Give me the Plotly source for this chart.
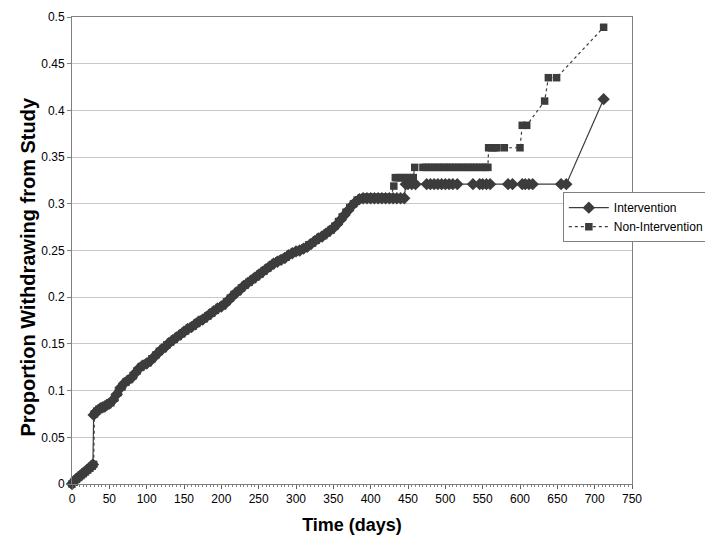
import plotly.graph_objects as go

# ---- data ----
int_days = [0, 2, 5, 8, 11, 14, 17, 20, 23, 26, 28,
            29, 32, 35, 38, 41, 44, 47, 50, 55, 60, 65, 70, 75, 80, 85, 90, 95, 100,
            105, 110, 115, 120, 125, 130, 135, 140, 145, 150, 155, 160, 165, 170, 175,
            180, 185, 190, 195, 200, 205, 210, 215, 220, 225, 230, 235, 240, 245, 250,
            255, 260, 265, 270, 275, 280, 285, 290, 295, 300, 305, 310, 315, 320, 325,
            330, 335, 340, 345, 350, 355, 360, 365, 370, 375, 380, 385, 390, 395, 400,
            405, 410, 415, 420, 425, 430, 435, 440, 445, 447,
            450, 455, 460, 475, 480, 485, 490, 495, 500, 505, 510, 516, 537, 546, 550,
            555, 560, 584, 590, 603, 607, 612, 617, 655, 662, 712]
int_vals = [0.000, 0.002, 0.005, 0.007, 0.009, 0.011, 0.013, 0.015, 0.017, 0.019, 0.021,
            0.074, 0.077, 0.079, 0.081, 0.082, 0.083, 0.085, 0.086, 0.090, 0.096, 0.103,
            0.108, 0.111, 0.114, 0.119, 0.124, 0.127, 0.129,
            0.132, 0.136, 0.140, 0.144, 0.147, 0.151, 0.154, 0.157, 0.160, 0.163, 0.166,
            0.168, 0.171, 0.174, 0.176,
            0.179, 0.182, 0.185, 0.188, 0.190, 0.193, 0.197, 0.201, 0.205, 0.208, 0.212,
            0.215, 0.218, 0.221, 0.224,
            0.227, 0.230, 0.233, 0.236, 0.238, 0.240, 0.242, 0.245, 0.247, 0.249, 0.250,
            0.252, 0.254, 0.257, 0.260,
            0.263, 0.265, 0.268, 0.271, 0.274, 0.278, 0.283, 0.288, 0.293, 0.298, 0.302,
            0.305, 0.306, 0.306, 0.306,
            0.306, 0.306, 0.306, 0.306, 0.306, 0.306, 0.306, 0.306, 0.306, 0.321,
            0.321, 0.321, 0.321, 0.321, 0.321, 0.321, 0.321, 0.321, 0.321, 0.321, 0.321,
            0.321, 0.321, 0.321, 0.321,
            0.321, 0.321, 0.321, 0.321, 0.321, 0.321, 0.321, 0.321, 0.321, 0.321, 0.412]

non_days = [0, 3, 6, 9, 12, 15, 18, 21, 24, 27, 29,
            30, 33, 36, 39, 42, 45, 48, 52, 57, 62, 67, 72, 77, 82, 87, 92, 97, 102,
            107, 112, 117, 122, 127, 132, 137, 142, 147, 152, 157, 162, 167, 172, 177,
            182, 187, 192, 197, 202, 207, 212, 217, 222, 227, 232, 237, 242, 247, 252,
            257, 262, 267, 272, 277, 282, 287, 292, 297, 302, 307, 312, 317, 322, 327,
            332, 337, 342, 347, 352, 357, 362, 367, 372, 377, 382, 387, 392, 397, 402,
            407, 412, 417, 422, 427, 431, 433, 436, 439, 442, 445, 448, 451, 454, 457,
            459, 470, 474, 478, 482, 486, 490, 494, 498, 502, 506, 510, 514, 518, 522,
            526, 530, 534, 538, 542, 546, 550, 554, 557,
            558, 562, 566, 569, 579, 600, 603, 609, 633, 638, 649, 712]
non_vals = [0.000, 0.002, 0.005, 0.007, 0.009, 0.011, 0.013, 0.015, 0.017, 0.019, 0.021,
            0.075, 0.078, 0.080, 0.081, 0.083, 0.084, 0.085, 0.087, 0.092, 0.098, 0.104,
            0.109, 0.112, 0.116, 0.121, 0.125, 0.128, 0.130,
            0.134, 0.138, 0.142, 0.145, 0.149, 0.152, 0.155, 0.158, 0.161, 0.164, 0.167,
            0.169, 0.172, 0.175, 0.177,
            0.180, 0.183, 0.186, 0.189, 0.191, 0.195, 0.199, 0.203, 0.206, 0.210, 0.213,
            0.216, 0.219, 0.222, 0.225,
            0.228, 0.231, 0.234, 0.237, 0.239, 0.241, 0.243, 0.246, 0.248, 0.249, 0.251,
            0.253, 0.256, 0.258, 0.261,
            0.264, 0.266, 0.269, 0.272, 0.276, 0.281, 0.286, 0.291, 0.296, 0.300, 0.304,
            0.306, 0.307, 0.307, 0.307,
            0.307, 0.307, 0.307, 0.307, 0.307, 0.319, 0.328, 0.328, 0.328, 0.328, 0.328,
            0.328, 0.328, 0.328, 0.328,
            0.339, 0.339, 0.339, 0.339, 0.339, 0.339, 0.339, 0.339, 0.339, 0.339, 0.339,
            0.339, 0.339, 0.339, 0.339,
            0.339, 0.339, 0.339, 0.339, 0.339, 0.339, 0.339, 0.339, 0.339,
            0.360, 0.360, 0.360, 0.360, 0.360, 0.360, 0.384, 0.384, 0.410, 0.435, 0.435, 0.489]

x_ticks = list(range(0, 751, 50))
y_ticks = [0, 0.05, 0.1, 0.15, 0.2, 0.25, 0.3, 0.35, 0.4, 0.45, 0.5]
y_tick_labels = ["0", "0.05", "0.1", "0.15", "0.2", "0.25", "0.3", "0.35", "0.4", "0.45", "0.5"]

DARK = "#3c3c3c"
FONT = "Liberation Sans, Arial, sans-serif"

fig = go.Figure()
fig.add_trace(go.Scatter(
    x=int_days, y=int_vals, name="Intervention", mode="lines+markers",
    line=dict(color=DARK, width=1.2),
    marker=dict(symbol="diamond", size=9.5, color=DARK),
    cliponaxis=False))
fig.add_trace(go.Scatter(
    x=non_days, y=non_vals, name="Non-Intervention", mode="lines+markers",
    line=dict(color=DARK, width=1.2, dash="dot"),
    marker=dict(symbol="square", size=7.5, color=DARK),
    cliponaxis=False))

fig.update_layout(
    width=705, height=537,
    margin=dict(l=64, r=81, t=9, b=61, autoexpand=False),
    paper_bgcolor="white", plot_bgcolor="white",
    font=dict(family=FONT, size=12, color="#000"),
    showlegend=True,
    legend=dict(xref="container", yref="container", x=0.787, y=0.657,
                xanchor="left", yanchor="top",
                bgcolor="white", bordercolor="#808080", borderwidth=1,
                font=dict(family=FONT, size=12, color="#000"),
                itemwidth=40, tracegroupgap=2),
    xaxis=dict(range=[0, 750], tickvals=x_ticks, ticks="outside", ticklen=4,
               tickcolor="#606060", showgrid=False, zeroline=False, automargin=False,
               showline=True, linecolor="#808080", linewidth=1, mirror=True,
               minor=dict(dtick=5, ticks="outside", ticklen=2, tickcolor="#808080"),
               tickfont=dict(size=12, color="#000"),
               title=dict(text="<b>Time (days)</b>", font=dict(size=18, color="#000"), standoff=12)),
    yaxis=dict(range=[0, 0.5], tickvals=y_ticks, ticktext=y_tick_labels, automargin=False,
               ticks="outside", ticklen=4, tickcolor="#808080",
               showgrid=True, gridcolor="#c8c8c8", gridwidth=1, zeroline=False,
               showline=True, linecolor="#808080", linewidth=1, mirror=True,
               tickfont=dict(size=12, color="#000")),
    annotations=[dict(text="<b>Proportion Withdrawing from Study</b>", textangle=-90,
                      xref="paper", yref="paper", x=-0.079, y=0.465,
                      xanchor="center", yanchor="middle", showarrow=False,
                      font=dict(family=FONT, size=20, color="#000"))],
)

fig.write_html("out.html")
